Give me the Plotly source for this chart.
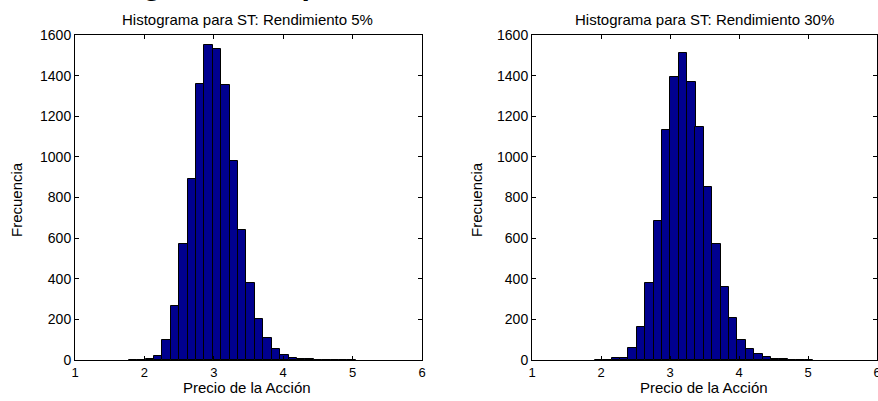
import plotly.graph_objects as go

# ---------------- data ----------------
left_title = "Histograma para ST: Rendimiento 5%"
right_title = "Histograma para ST: Rendimiento 30%"
x_label = "Precio de la Acción"
y_label = "Frecuencia"

left_bin_width = 0.1212
left_centers = [1.835, 1.956, 2.077, 2.198, 2.319, 2.441, 2.562, 2.683, 2.804,
                2.925, 3.046, 3.168, 3.289, 3.410, 3.531, 3.653, 3.774, 3.895,
                4.016, 4.137, 4.258, 4.380, 4.501, 4.622, 4.743, 4.865, 4.986]
left_counts = [1, 2, 7, 20, 97, 266, 570, 890, 1359, 1551, 1530, 1352, 980, 640,
               380, 202, 108, 55, 27, 10, 6, 5, 2, 2, 1, 1, 1]

right_bin_width = 0.1217
right_centers = [1.970, 2.092, 2.213, 2.335, 2.457, 2.578, 2.700, 2.822, 2.943,
                 3.065, 3.187, 3.309, 3.430, 3.552, 3.674, 3.795, 3.917, 4.039,
                 4.160, 4.282, 4.404, 4.526, 4.647, 4.769, 4.891, 5.012]
right_counts = [1, 1, 10, 10, 61, 164, 380, 686, 1132, 1392, 1510, 1370, 1146,
                850, 570, 358, 205, 98, 56, 28, 13, 7, 5, 2, 2, 1]

x_ticks = [1, 2, 3, 4, 5, 6]
y_ticks = [0, 200, 400, 600, 800, 1000, 1200, 1400, 1600]

# ---------------- figure ----------------
W, H = 878, 401
FONT = "Liberation Sans, Arial, sans-serif"
BAR_COLOR = "#00008F"

fig = go.Figure()
fig.add_trace(go.Bar(x=left_centers, y=left_counts, width=left_bin_width,
                     marker=dict(color=BAR_COLOR, line=dict(color="black", width=1)),
                     xaxis="x", yaxis="y", hoverinfo="x+y"))
fig.add_trace(go.Bar(x=right_centers, y=right_counts, width=right_bin_width,
                     marker=dict(color=BAR_COLOR, line=dict(color="black", width=1)),
                     xaxis="x2", yaxis="y2", hoverinfo="x+y"))

def px_x(p):
    return p / W

def px_y(p):
    return 1 - p / H

ydom = [px_y(360), px_y(35)]
axis_common = dict(
    showline=True, linecolor="black", linewidth=1, mirror="ticks",
    ticks="inside", ticklen=4, tickcolor="black", tickwidth=1,
    showgrid=False, zeroline=False, automargin=False,
    tickfont=dict(family=FONT, size=14, color="black"),
)
xaxis_common = dict(axis_common, tickfont=dict(family=FONT, size=13, color="black"),
                    ticklabeloverflow="allow")

fig.update_layout(
    width=W, height=H,
    margin=dict(l=0, r=0, t=0, b=0, pad=0, autoexpand=False),
    paper_bgcolor="white", plot_bgcolor="white",
    showlegend=False, bargap=0,
    font=dict(family=FONT, size=14, color="black"),
    xaxis=dict(domain=[px_x(75), px_x(422)], range=[1, 6], tickvals=x_ticks,
               anchor="y", **xaxis_common),
    yaxis=dict(domain=ydom, range=[0, 1600], tickvals=y_ticks, anchor="x",
               **axis_common),
    xaxis2=dict(domain=[px_x(532), px_x(877)], range=[1, 6], tickvals=x_ticks,
                anchor="y2", **xaxis_common),
    yaxis2=dict(domain=ydom, range=[0, 1600], tickvals=y_ticks, anchor="x2",
                **axis_common),
)

ann = []
# subplot titles
ann.append(dict(text=left_title, x=px_x(247), y=px_y(19), xref="paper", yref="paper",
                xanchor="center", yanchor="middle", showarrow=False,
                font=dict(family=FONT, size=15, color="black")))
ann.append(dict(text=right_title, x=px_x(704), y=px_y(19), xref="paper", yref="paper",
                xanchor="center", yanchor="middle", showarrow=False,
                font=dict(family=FONT, size=15, color="black")))
# x labels
for cx in (247, 704):
    ann.append(dict(text=x_label, x=px_x(cx), y=px_y(387), xref="paper", yref="paper",
                    xanchor="center", yanchor="middle", showarrow=False,
                    font=dict(family=FONT, size=15, color="black")))
# y labels
for cx in (16, 476):
    ann.append(dict(text=y_label, x=px_x(cx), y=px_y(200), xref="paper", yref="paper",
                    xanchor="center", yanchor="middle", showarrow=False, textangle=-90,
                    font=dict(family=FONT, size=15, color="black")))
# cropped big heading at the very top (only descenders visible)
ann.append(dict(text="<b>Histogramas de precios</b>", x=px_x(66), y=1, xref="paper",
                yref="paper", xanchor="left", yanchor="bottom", yshift=-3,
                showarrow=False, font=dict(family=FONT, size=30, color="black")))
fig.update_layout(annotations=ann)

fig.write_html("out.html")
